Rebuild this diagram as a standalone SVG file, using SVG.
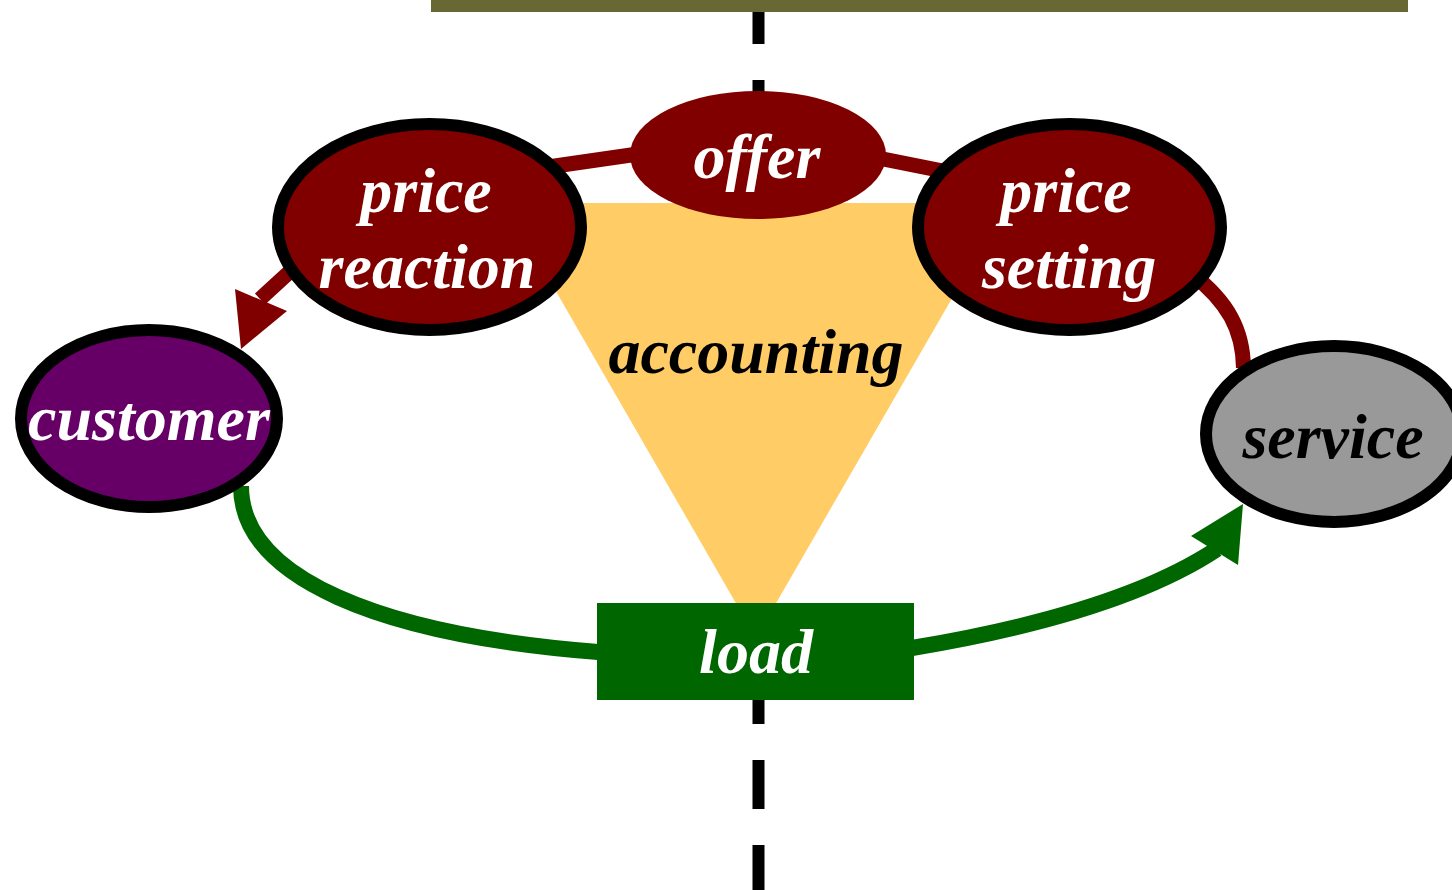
<svg xmlns="http://www.w3.org/2000/svg" width="1452" height="890" viewBox="0 0 1452 890">
<style>
text{font-family:"Liberation Serif","Times New Roman",serif;font-style:italic;font-weight:bold;font-size:64px;text-anchor:middle}
.w{fill:#ffffff}
.k{fill:#000000}
.node{stroke:#000000;stroke-width:12}
.red{fill:none;stroke:#800000;stroke-width:15}
.grn{fill:none;stroke:#006600;stroke-width:16}
</style>
<rect width="1452" height="890" fill="#ffffff"/>
<g id="axis">
<line x1="758.5" y1="-5" x2="758.5" y2="890" stroke="#000000" stroke-width="12" stroke-dasharray="49 36"/>
</g>
<g id="accounting">
<polygon points="505,203 1007,203 756,638" fill="#FFCC66"/>
<text class="k" x="756" y="373">accounting</text>
</g>
<g id="connectors">
<path class="red" d="M1243.5,368 C1243,330 1228,302 1192,274"/>
<path class="red" d="M878,158 L948,172"/>
<path class="red" d="M638,154 L548,167"/>
<path class="red" d="M296,266 L260,299"/>
<polygon points="235,289 287,311 241,349" fill="#800000"/>
<path class="grn" d="M241,486 C241,578 380,635 598,652"/>
<path class="grn" d="M912,648 C1020,630 1140,600 1217,549"/>
<polygon points="1191,536 1238,565 1243,504" fill="#006600"/>
</g>
<g id="offer">
<ellipse cx="758" cy="155" rx="128" ry="64" fill="#800000"/>
<text class="w" x="757" y="178">offer</text>
</g>
<g id="price-reaction">
<ellipse class="node" cx="429.5" cy="227" rx="151.5" ry="103" fill="#800000"/>
<text class="w" x="426" y="212">price</text>
<text class="w" x="427" y="288">reaction</text>
</g>
<g id="price-setting">
<ellipse class="node" cx="1069.5" cy="227" rx="151.5" ry="103" fill="#800000"/>
<text class="w" x="1066" y="212">price</text>
<text class="w" x="1069" y="288">setting</text>
</g>
<g id="customer">
<ellipse class="node" cx="149" cy="418.5" rx="128" ry="88.5" fill="#660066"/>
<text class="w" x="149" y="440">customer</text>
</g>
<g id="service">
<ellipse class="node" cx="1334" cy="434" rx="128" ry="88" fill="#999999"/>
<text class="k" x="1333" y="458">service</text>
</g>
<g id="load">
<rect x="597" y="603" width="317" height="97" fill="#006600"/>
<text class="w" x="756" y="673">load</text>
</g>
<g id="bar">
<rect x="431" y="0" width="977" height="12" fill="#686834"/>
</g>
</svg>
